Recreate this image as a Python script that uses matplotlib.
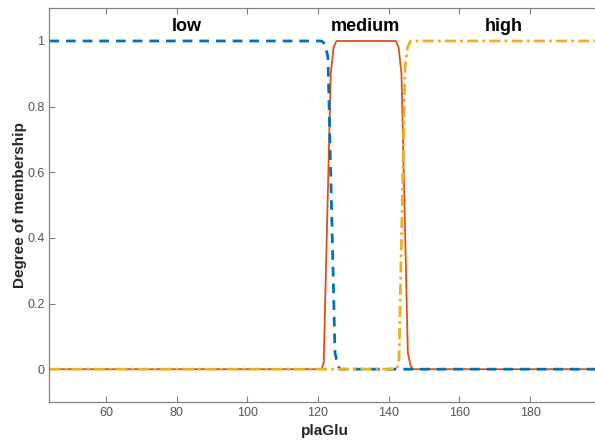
"""Membership functions for plaGlu (low / medium / high)."""

import matplotlib.pyplot as plt

plt.rcParams["font.family"] = ["Liberation Sans", "DejaVu Sans"]

# breakpoints
low_x = [44, 121.0, 122.0, 122.8, 124.8, 125.6, 126.2, 200]
low_y = [1, 1, 0.99, 0.95, 0.05, 0.01, 0, 0]

med_x = [44, 121.0, 121.6, 123.6, 124.4, 125.2, 142.0, 142.8, 143.6, 145.4, 146.2, 146.8, 200]
med_y = [0, 0, 0.02, 0.9, 0.98, 1, 1, 0.98, 0.9, 0.05, 0.01, 0, 0]

high_x = [44, 142.3, 142.9, 144.6, 145.3, 146.2, 200]
high_y = [0, 0, 0.03, 0.92, 0.98, 1, 1]

mf_names = ["low", "medium", "high"]
label_x = [83, 133.5, 172.5]

BLUE = "#0072BD"
ORANGE = "#D95319"
YELLOW = "#EDB120"


def main() -> None:
    fig = plt.figure(figsize=(5.95, 4.44), dpi=100)
    ax = fig.add_axes([0.0829, 0.0946, 0.927, 0.887])

    ax.plot(med_x, med_y, color=ORANGE, lw=1.3)
    ax.plot(low_x, low_y, color=BLUE, lw=2.0, ls=(0, (3.5, 2.5)))
    ax.plot(high_x, high_y, color=YELLOW, lw=2.0, ls=(0, (4, 1.5, 1, 1.5)))

    for name, xpos in zip(mf_names, label_x):
        ax.text(xpos, 1.045, name, ha="center", va="center",
                fontsize=13, fontweight="bold", color="black")

    ax.set_xlim(44, 200)
    ax.set_ylim(-0.1, 1.1)
    ax.set_xticks([60, 80, 100, 120, 140, 160, 180])
    ax.set_yticks([0, 0.2, 0.4, 0.6, 0.8, 1])
    ax.set_yticklabels(["0", "0.2", "0.4", "0.6", "0.8", "1"])

    ax.tick_params(direction="in", length=4, width=0.8, colors="#808080",
                   labelcolor="#555555", labelsize=9, top=True, right=True)
    for sp in ax.spines.values():
        sp.set_color("#808080")
        sp.set_linewidth(0.9)

    ax.set_xlabel("plaGlu", fontsize=11, fontweight="bold", color="#262626",
                  labelpad=4)
    ax.set_ylabel("Degree of membership", fontsize=11, fontweight="bold",
                  color="#262626")
    ax.yaxis.set_label_coords(-0.04, 0.5)

    fig.savefig("out.png", dpi=100)
    plt.close(fig)


if __name__ == "__main__":
    main()
